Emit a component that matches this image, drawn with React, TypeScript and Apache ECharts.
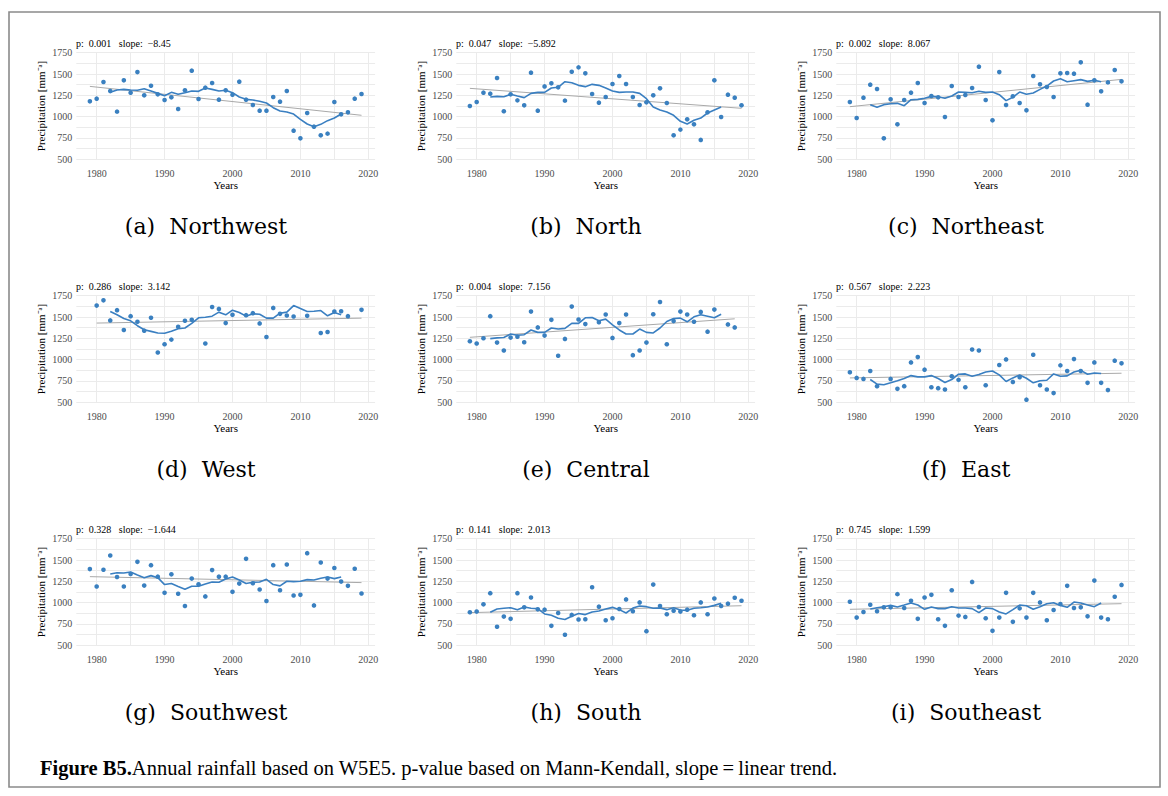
import React, { useEffect, useRef } from "react";
import * as echarts from "echarts";

const YEARS = [1979, 1980, 1981, 1982, 1983, 1984, 1985, 1986, 1987, 1988, 1989, 1990, 1991, 1992, 1993, 1994, 1995, 1996, 1997, 1998, 1999, 2000, 2001, 2002, 2003, 2004, 2005, 2006, 2007, 2008, 2009, 2010, 2011, 2012, 2013, 2014, 2015, 2016, 2017, 2018, 2019];
const MA_YEARS = [1982, 1983, 1984, 1985, 1986, 1987, 1988, 1989, 1990, 1991, 1992, 1993, 1994, 1995, 1996, 1997, 1998, 1999, 2000, 2001, 2002, 2003, 2004, 2005, 2006, 2007, 2008, 2009, 2010, 2011, 2012, 2013, 2014, 2015, 2016];
const X_TICK_LABELS = [1980, 1990, 2000, 2010, 2020];
const X_GRID = [1980, 1985, 1990, 1995, 2000, 2005, 2010, 2015, 2020];

const NORTHWEST_VALUES = [1180, 1211, 1406, 1300, 1059, 1426, 1281, 1523, 1250, 1363, 1262, 1195, 1227, 1090, 1309, 1539, 1207, 1340, 1395, 1199, 1309, 1258, 1410, 1199, 1137, 1070, 1070, 1230, 1176, 1301, 836, 746, 1043, 883, 781, 801, 1172, 1027, 1051, 1211, 1266];
const NORTHWEST_MA = [1285, 1312, 1320, 1312, 1309, 1328, 1301, 1273, 1246, 1285, 1262, 1281, 1301, 1297, 1336, 1320, 1301, 1309, 1281, 1230, 1203, 1195, 1180, 1160, 1105, 1066, 1055, 1031, 969, 914, 883, 910, 953, 984, 1031];
const NORTHWEST_TREND_YEARS = [1979, 2019];
const NORTHWEST_TREND = [1355, 1016];

const NORTH_VALUES = [1125, 1172, 1281, 1270, 1453, 1063, 1262, 1191, 1133, 1516, 1070, 1355, 1391, 1344, 1188, 1527, 1578, 1508, 1266, 1164, 1230, 1383, 1477, 1383, 1230, 1137, 1168, 1250, 1332, 1160, 781, 848, 969, 910, 727, 1051, 1426, 996, 1258, 1223, 1133];
const NORTH_MA = [1230, 1238, 1234, 1262, 1242, 1223, 1273, 1285, 1285, 1336, 1344, 1410, 1398, 1367, 1352, 1379, 1367, 1336, 1301, 1285, 1289, 1289, 1273, 1211, 1113, 1078, 1055, 1016, 945, 914, 957, 984, 1043, 1078, 1113];
const NORTH_TREND_YEARS = [1979, 2019];
const NORTH_TREND = [1332, 1098];

const NORTHEAST_VALUES = [1172, 984, 1223, 1375, 1324, 746, 1203, 910, 1195, 1281, 1395, 1160, 1242, 1227, 996, 1359, 1230, 1254, 1336, 1586, 1195, 957, 1523, 1137, 1238, 1160, 1074, 1477, 1379, 1348, 1230, 1508, 1512, 1504, 1637, 1141, 1426, 1297, 1402, 1547, 1414];
const NORTHEAST_MA = [1141, 1109, 1141, 1152, 1156, 1129, 1199, 1203, 1215, 1238, 1234, 1215, 1242, 1289, 1285, 1281, 1297, 1285, 1289, 1258, 1188, 1227, 1289, 1262, 1277, 1320, 1359, 1418, 1445, 1410, 1422, 1434, 1414, 1426, 1410];
const NORTHEAST_TREND_YEARS = [1979, 2019];
const NORTHEAST_TREND = [1117, 1437];

const WEST_VALUES = [null, 1634, 1696, 1460, 1580, 1348, 1510, 1444, 1340, 1491, 1084, 1181, 1235, 1386, 1456, 1467, null, 1189, 1618, 1595, 1429, 1526, null, 1522, 1545, 1425, 1266, 1607, 1537, 1518, 1506, null, 1514, null, 1313, 1324, 1564, 1568, 1510, null, 1584];
const WEST_MA = [1564, 1526, 1483, 1456, 1398, 1351, 1332, 1313, 1309, 1332, 1363, 1371, 1425, 1491, 1498, 1510, 1557, 1526, 1580, 1553, 1510, 1537, 1533, 1487, 1487, 1545, 1557, 1634, 1599, 1564, 1568, 1576, 1514, 1553, 1526];
const WEST_TREND_YEARS = [1980, 2019];
const WEST_TREND = [1429, 1487];

const CENTRAL_VALUES = [1216, 1189, 1251, 1510, 1200, 1108, 1259, 1270, 1204, 1564, 1378, 1282, 1467, 1046, 1243, 1622, 1471, 1417, null, 1440, 1529, 1255, 1429, 1529, 1053, 1108, 1200, 1533, 1676, 1181, 1452, 1564, 1529, 1444, 1560, 1328, 1587, null, 1413, 1378, null];
const CENTRAL_MA = [1247, 1255, 1259, 1301, 1286, 1293, 1348, 1320, 1320, 1371, 1359, 1367, 1425, 1425, 1491, 1495, 1456, 1475, 1409, 1348, 1301, 1301, 1359, 1320, 1313, 1371, 1448, 1483, 1487, 1444, 1502, 1526, 1510, 1491, 1533];
const CENTRAL_TREND_YEARS = [1979, 2018];
const CENTRAL_TREND = [1262, 1479];

const EAST_VALUES = [852, 786, 774, 867, 689, null, 774, 658, 689, 968, 1030, 883, 677, 666, 650, 806, 763, 677, 1119, 1108, 700, null, 937, 1003, 739, 794, 531, 1057, 700, 650, 608, 933, 867, 1007, 867, 728, 968, 728, 643, 988, 957];
const EAST_MA = [767, 713, 705, 728, 752, 779, 813, 798, 798, 813, 779, 732, 767, 829, 833, 806, 825, 856, 867, 821, 744, 786, 821, 782, 728, 752, 759, 833, 806, 810, 856, 875, 829, 844, 837];
const EAST_TREND_YEARS = [1979, 2019];
const EAST_TREND = [786, 841];

const SOUTHWEST_VALUES = [1394, 1189, 1386, 1553, 1301, 1189, 1336, 1479, 1200, 1440, 1305, 1115, 1332, 1104, 961, 1282, 1216, 1073, 1382, 1305, 1305, 1127, 1224, 1514, 1228, 1154, 1019, 1440, 1146, 1448, 1084, 1092, 1580, 968, 1471, 1282, 1406, 1247, 1197, 1398, 1108];
const SOUTHWEST_MA = [1336, 1351, 1348, 1359, 1324, 1293, 1317, 1293, 1212, 1224, 1189, 1158, 1193, 1193, 1220, 1243, 1239, 1278, 1301, 1266, 1224, 1239, 1243, 1274, 1212, 1197, 1251, 1247, 1251, 1270, 1266, 1286, 1301, 1282, 1301];
const SOUTHWEST_TREND_YEARS = [1979, 2019];
const SOUTHWEST_TREND = [1305, 1235];

const SOUTH_VALUES = [887, 895, 980, 1111, 717, 837, 810, 1111, 945, 1061, 922, 918, 728, 879, 624, 856, 802, 806, 1181, 953, 794, 817, 926, 1038, 899, 1003, 666, 1212, 961, 864, 906, 895, 918, 852, 1003, 864, 1049, 961, 988, 1057, 1022];
const SOUTH_MA = [887, 926, 934, 941, 918, 949, 934, 930, 868, 852, 817, 802, 841, 872, 860, 891, 903, 926, 945, 918, 879, 937, 961, 953, 934, 937, 918, 941, 914, 910, 934, 941, 949, 968, 992];
const SOUTH_TREND_YEARS = [1979, 2019];
const SOUTH_TREND = [883, 964];

const SOUTHEAST_VALUES = [1011, 825, 891, 976, 899, 945, 945, 1100, 937, 1022, 810, 1061, 1092, 806, 728, 1146, 848, 833, 1243, 949, 817, 670, 825, 1115, 775, 933, 825, 1115, 1003, 794, 914, 984, 1197, 937, 945, 840, 1259, 825, 806, 1069, 1208];
const SOUTHEAST_MA = [926, 941, 953, 968, 949, 972, 996, 972, 922, 949, 930, 930, 953, 937, 937, 930, 883, 937, 930, 891, 868, 918, 972, 964, 922, 953, 988, 999, 968, 945, 1007, 996, 972, 953, 996];
const SOUTHEAST_TREND_YEARS = [1979, 2019];
const SOUTHEAST_TREND = [922, 988];

const PANEL_LABELS = ["(a)", "(b)", "(c)", "(d)", "(e)", "(f)", "(g)", "(h)", "(i)"];
const PANEL_NAMES = ["Northwest", "North", "Northeast", "West", "Central", "East", "Southwest", "South", "Southeast"];
const P_VALUES = ["0.001", "0.047", "0.002", "0.286", "0.004", "0.567", "0.328", "0.141", "0.745"];
const SLOPES = ["\u22128.45", "\u22125.892", "8.067", "3.142", "7.156", "2.223", "\u22121.644", "2.013", "1.599"];

const PANELS = [
  { values: NORTHWEST_VALUES, ma: NORTHWEST_MA, ty: NORTHWEST_TREND_YEARS, tv: NORTHWEST_TREND },
  { values: NORTH_VALUES, ma: NORTH_MA, ty: NORTH_TREND_YEARS, tv: NORTH_TREND },
  { values: NORTHEAST_VALUES, ma: NORTHEAST_MA, ty: NORTHEAST_TREND_YEARS, tv: NORTHEAST_TREND },
  { values: WEST_VALUES, ma: WEST_MA, ty: WEST_TREND_YEARS, tv: WEST_TREND },
  { values: CENTRAL_VALUES, ma: CENTRAL_MA, ty: CENTRAL_TREND_YEARS, tv: CENTRAL_TREND },
  { values: EAST_VALUES, ma: EAST_MA, ty: EAST_TREND_YEARS, tv: EAST_TREND },
  { values: SOUTHWEST_VALUES, ma: SOUTHWEST_MA, ty: SOUTHWEST_TREND_YEARS, tv: SOUTHWEST_TREND },
  { values: SOUTH_VALUES, ma: SOUTH_MA, ty: SOUTH_TREND_YEARS, tv: SOUTH_TREND },
  { values: SOUTHEAST_VALUES, ma: SOUTHEAST_MA, ty: SOUTHEAST_TREND_YEARS, tv: SOUTHEAST_TREND },
];

const SERIF = "Liberation Serif";
const CAPTION_FONT = "DejaVu Serif";
const BLUE = "#3a7fc1";
const NB = "\u00a0";

export default function App() {
  const ref = useRef<HTMLDivElement>(null);

  useEffect(() => {
    if (!ref.current) return;
    const chart = echarts.init(ref.current, undefined, { renderer: "svg" });

    const colX = (c: number) => 76.3 + 380 * c;
    const rowY = (r: number) => 52.7 + 243 * r;

    const grids: any[] = [];
    const xAxes: any[] = [];
    const yAxes: any[] = [];
    const series: any[] = [];
    const graphics: any[] = [
      {
        type: "rect",
        shape: { x: 9, y: 12, width: 1151, height: 775 },
        style: { fill: "none", stroke: "#8a8a8a", lineWidth: 1.6 },
        silent: true,
      },
    ];

    PANELS.forEach((p, i) => {
      const c = i % 3;
      const r = Math.floor(i / 3);
      grids.push({ left: colX(c), top: rowY(r), width: 298.8, height: 106.6 });
      xAxes.push({
        type: "value",
        gridIndex: i,
        min: 1977,
        max: 2021,
        name: "Years",
        nameLocation: "middle",
        nameGap: 19,
        nameTextStyle: { fontFamily: SERIF, fontSize: 11, color: "#000" },
        axisLine: { show: false },
        axisTick: { show: false, customValues: X_GRID },
        axisLabel: {
          customValues: X_TICK_LABELS,
          fontFamily: SERIF,
          fontSize: 10,
          color: "#4d4d4d",
          margin: 9,
          formatter: (v: number) => String(v),
        },
        splitLine: { show: true, lineStyle: { color: "#ebebeb", width: 1 } },
      });
      yAxes.push({
        type: "value",
        gridIndex: i,
        min: 500,
        max: 1750,
        interval: 125,
        name: "Precipitation [mm\u207B\u1D43]",
        nameLocation: "middle",
        nameGap: 30,
        nameRotate: 90,
        nameTextStyle: { fontFamily: SERIF, fontSize: 11, color: "#000" },
        axisLine: { show: false },
        axisTick: { show: false },
        axisLabel: {
          fontFamily: SERIF,
          fontSize: 10,
          color: "#4d4d4d",
          margin: 4,
          formatter: (v: number) => (v % 250 === 0 ? String(v) : ""),
        },
        splitLine: { show: true, lineStyle: { color: "#ebebeb", width: 1 } },
      });
      series.push({
        type: "line",
        xAxisIndex: i,
        yAxisIndex: i,
        data: p.ty.map((y, k) => [y, p.tv[k]]),
        symbol: "none",
        silent: true,
        lineStyle: { color: "#a9a9a9", width: 1 },
        z: 2,
      });
      series.push({
        type: "line",
        xAxisIndex: i,
        yAxisIndex: i,
        data: MA_YEARS.map((y, k) => [y, p.ma[k]]),
        symbol: "none",
        silent: true,
        lineStyle: { color: BLUE, width: 1.6 },
        z: 3,
      });
      series.push({
        type: "scatter",
        xAxisIndex: i,
        yAxisIndex: i,
        data: YEARS.map((y, k) => [y, p.values[k]]).filter((d) => d[1] !== null),
        symbolSize: 4.6,
        silent: true,
        itemStyle: { color: "#3a80c0", opacity: 1 },
        z: 4,
      });
      graphics.push({
        type: "text",
        silent: true,
        style: {
          x: 76 + 380 * c,
          y: 43 + 243 * r,
          text: `p:${NB}${NB}${P_VALUES[i]}${NB}${NB}${NB}slope:${NB}${NB}${SLOPES[i]}`,
          fontFamily: SERIF,
          fontSize: 10,
          fill: "#000",
          textVerticalAlign: "middle",
        },
      });
      graphics.push({
        type: "text",
        silent: true,
        style: {
          x: 206 + 380 * c,
          y: 226 + 243 * r,
          text: `${PANEL_LABELS[i]}${NB}${NB}${PANEL_NAMES[i]}`,
          fontFamily: CAPTION_FONT,
          fontSize: 22,
          fill: "#000",
          textAlign: "center",
          textVerticalAlign: "middle",
        },
      });
    });

    chart.setOption({
      animation: false,
      backgroundColor: "#fff",
      title: {
        text: "{b|Figure B5.}Annual rainfall based on W5E5. p-value based on Mann-Kendall, slope\u2009=\u2009linear trend.",
        left: 35,
        top: 752,
        textStyle: {
          fontFamily: SERIF,
          fontSize: 20.5,
          fontWeight: "normal",
          color: "#000",
          rich: {
            b: { fontFamily: SERIF, fontSize: 20.5, fontWeight: "bold", color: "#000" },
          },
        },
      },
      grid: grids,
      xAxis: xAxes,
      yAxis: yAxes,
      series,
      graphic: graphics,
    });

    return () => chart.dispose();
  }, []);

  return (
    <div
      ref={ref}
      style={{ position: "absolute", left: 0, top: 0, width: 1168, height: 796, background: "#fff" }}
    />
  );
}
